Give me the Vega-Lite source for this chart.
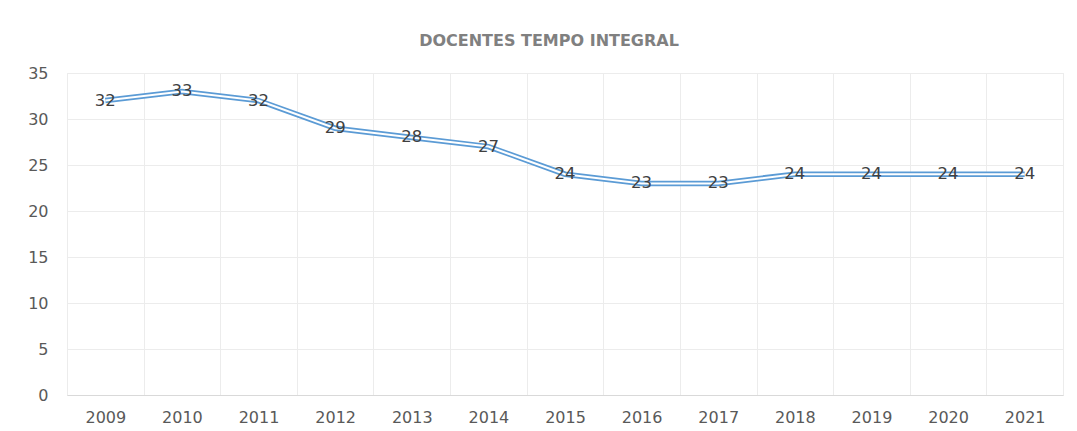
{
  "$schema": "https://vega.github.io/schema/vega-lite/v6.json",
  "width": 996,
  "height": 322,
  "autosize": "none",
  "padding": {"left": 67, "top": 73, "right": 14, "bottom": 36},
  "background": "white",
  "title": {
    "text": "DOCENTES TEMPO INTEGRAL",
    "font": "DejaVu Sans",
    "fontSize": 16,
    "fontWeight": "bold",
    "color": "#808080",
    "offset": 16,
    "dx": -16,
    "anchor": "middle"
  },
  "data": {
    "values": [
      {"ano": "2009", "docentes": 32},
      {"ano": "2010", "docentes": 33},
      {"ano": "2011", "docentes": 32},
      {"ano": "2012", "docentes": 29},
      {"ano": "2013", "docentes": 28},
      {"ano": "2014", "docentes": 27},
      {"ano": "2015", "docentes": 24},
      {"ano": "2016", "docentes": 23},
      {"ano": "2017", "docentes": 23},
      {"ano": "2018", "docentes": 24},
      {"ano": "2019", "docentes": 24},
      {"ano": "2020", "docentes": 24},
      {"ano": "2021", "docentes": 24}
    ]
  },
  "encoding": {
    "x": {
      "field": "ano",
      "type": "ordinal",
      "scale": {"type": "band", "paddingInner": 0, "paddingOuter": 0},
      "axis": {
        "title": null,
        "labelAngle": 0,
        "tickBand": "extent",
        "grid": true,
        "gridColor": "#ececec",
        "ticks": false,
        "domain": true,
        "domainColor": "#d9d9d9",
        "labelFont": "DejaVu Sans",
        "labelFontSize": 16,
        "labelColor": "#595959",
        "labelPadding": 14
      }
    },
    "y": {
      "field": "docentes",
      "type": "quantitative",
      "scale": {"domain": [0, 35], "nice": false},
      "axis": {
        "title": null,
        "values": [0, 5, 10, 15, 20, 25, 30, 35],
        "grid": true,
        "gridColor": "#ececec",
        "ticks": false,
        "domain": false,
        "labelFont": "DejaVu Sans",
        "labelFontSize": 16,
        "labelColor": "#595959",
        "labelPadding": 19
      }
    }
  },
  "layer": [
    {"mark": {"type": "line", "color": "#5B9BD5", "strokeWidth": 5.5}},
    {"mark": {"type": "line", "color": "#ffffff", "strokeWidth": 2}},
    {
      "mark": {"type": "text", "font": "DejaVu Sans", "fontSize": 16.5, "color": "#404040"},
      "encoding": {"text": {"field": "docentes", "type": "quantitative"}}
    }
  ],
  "config": {"view": {"stroke": "#e8e8e8"}}
}
